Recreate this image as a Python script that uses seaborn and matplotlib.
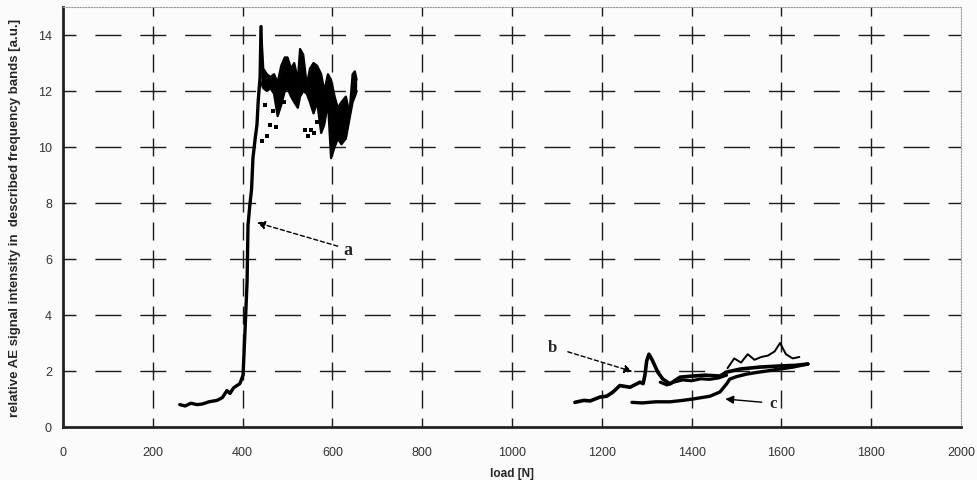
import numpy as np
import pandas as pd
import matplotlib
matplotlib.use("Agg")
import matplotlib.pyplot as plt
import seaborn as sns

# ---------------- data ----------------
a_load = [260, 272, 285, 298, 310, 325, 343, 355, 365, 372, 380, 394, 401, 405,
          410, 412, 416, 420, 423, 428, 432, 435, 439, 441]
a_value = [0.8, 0.75, 0.85, 0.8, 0.82, 0.9, 0.95, 1.05, 1.3, 1.2, 1.4, 1.55, 1.85, 3.3,
           5.2, 7.2, 7.9, 8.5, 9.6, 10.3, 10.8, 11.7, 12.5, 14.3]

a_band_load = [441, 446, 454, 462, 470, 478, 486, 494, 500, 508, 515, 523, 528, 535,
               543, 550, 558, 566, 575, 582, 590, 597, 605, 612, 620, 630, 638, 645,
               650, 654]
a_band_high = [14.3, 12.8, 12.6, 12.5, 12.6, 12.3, 12.9, 13.2, 13.2, 12.8, 13.0, 12.4,
               13.5, 13.3, 12.2, 12.8, 13.0, 12.9, 12.6, 12.0, 12.6, 12.4, 11.8, 11.4,
               11.6, 11.8, 11.2, 12.6, 12.7, 12.4]
a_band_low = [12.3, 12.1, 12.0, 12.1, 11.9, 11.1, 11.5, 12.0, 12.1, 11.8, 11.6, 11.4,
              11.8, 12.0, 11.9, 11.6, 11.2, 11.6, 10.5, 10.8, 11.6, 9.6, 10.0, 10.3,
              10.1, 10.3, 11.0, 11.6, 11.8, 12.0]

a_dot_load = [443, 449, 455, 461, 468, 474, 480, 486, 492, 540, 546, 552, 558, 566, 572]
a_dot_value = [10.2, 11.5, 10.4, 10.8, 11.3, 10.7, 11.5, 11.9, 11.6, 10.6, 10.4, 10.6,
               10.5, 10.9, 11.4]

b_load = [1140, 1160, 1174, 1196, 1211, 1225, 1240, 1263, 1285, 1292, 1296, 1300, 1305,
          1312, 1325, 1336, 1352, 1374, 1403, 1430, 1463, 1478, 1508, 1552, 1597, 1630,
          1659]
b_value = [0.88, 0.95, 0.93, 1.07, 1.1, 1.25, 1.48, 1.42, 1.6, 1.55, 1.85, 2.36, 2.6,
           2.4, 1.95, 1.71, 1.54, 1.78, 1.82, 1.85, 1.82, 1.96, 2.07, 2.14, 2.18, 2.2,
           2.25]

b_low_load = [1330, 1345, 1360, 1380, 1400, 1420, 1440, 1460, 1478]
b_low_value = [1.6, 1.5, 1.6, 1.68, 1.65, 1.72, 1.7, 1.75, 1.85]

b_up_load = [1480, 1495, 1510, 1525, 1540, 1555, 1570, 1585, 1597, 1610, 1625, 1640]
b_up_value = [2.1, 2.45, 2.3, 2.6, 2.4, 2.5, 2.55, 2.7, 3.0, 2.6, 2.45, 2.5]

c_load = [1267, 1290, 1320, 1352, 1380, 1403, 1441, 1463, 1478, 1485, 1500, 1523, 1545,
          1568, 1600, 1626, 1659]
c_value = [0.88, 0.86, 0.9, 0.9, 0.95, 1.0, 1.1, 1.25, 1.54, 1.71, 1.8, 1.89, 1.95, 2.0,
           2.08, 2.14, 2.25]

x_ticks = [0, 200, 400, 600, 800, 1000, 1200, 1400, 1600, 1800, 2000]
y_ticks = [0, 2, 4, 6, 8, 10, 12, 14]
x_label = "load [N]"
y_label = "relative AE signal intensity in  described frequency bands [a.u.]"

# ---------------- figure ----------------
sns.set_style("white")
plt.rcParams["font.family"] = ["Liberation Sans", "DejaVu Sans"]

fig = plt.figure(figsize=(9.77, 4.81), dpi=100, facecolor="#fbfbfb")
ax = fig.add_axes([63 / 977, 1 - 428 / 481, (961 - 63) / 977, (428 - 8) / 481])
ax.set_facecolor("#fbfbfb")

ax.set_xlim(0, 2000)
ax.set_ylim(0, 15)
ax.set_xticks(x_ticks)
ax.set_yticks(y_ticks)

# dashed grid with crossing dashes at intersections
px = 0.72
for yv in y_ticks[1:]:
    ax.axhline(yv, color="#1a1a1a", lw=1.0, zorder=1,
               linestyle=(9.35, (26 * px, 18.9 * px)))
for xv in x_ticks[1:-1]:
    ax.axvline(xv, color="#1a1a1a", lw=1.0, zorder=1,
               linestyle=(6.5, (18 * px, 10 * px)))

# curve a
sns.lineplot(x=a_load, y=a_value, color="black", lw=2.4, ax=ax, zorder=3)
ax.fill_between(a_band_load, a_band_low, a_band_high, color="black", lw=0, zorder=3)
sns.lineplot(x=a_band_load, y=a_band_high, color="black", lw=1.6, ax=ax, zorder=3)
sns.lineplot(x=a_band_load, y=a_band_low, color="black", lw=1.6, ax=ax, zorder=3)
sns.scatterplot(x=a_dot_load, y=a_dot_value, color="black", marker="s", s=6,
                linewidth=0, ax=ax, zorder=3)

# curve b
sns.lineplot(x=b_load, y=b_value, color="black", lw=2.6, ax=ax, zorder=3)
sns.lineplot(x=b_low_load, y=b_low_value, color="black", lw=2.2, ax=ax, zorder=3)
sns.lineplot(x=b_up_load, y=b_up_value, color="black", lw=1.4, ax=ax, zorder=3)

# curve c
sns.lineplot(x=c_load, y=c_value, color="black", lw=2.4, ax=ax, zorder=3)

# annotations
ax.annotate("a", xy=(432, 7.3), xytext=(625, 6.35), fontsize=13, fontweight="bold",
            family=["Liberation Serif", "DejaVu Serif"], ha="left", va="center",
            arrowprops=dict(arrowstyle="-|>", linestyle=(0, (3, 2)), color="black",
                            lw=1.0, shrinkA=2, shrinkB=0, mutation_scale=12))
ax.annotate("b", xy=(1268, 1.98), xytext=(1089, 2.86), fontsize=12, fontweight="bold",
            family=["Liberation Serif", "DejaVu Serif"], ha="center", va="center",
            arrowprops=dict(arrowstyle="-|>", linestyle=(0, (3, 2)), color="black",
                            lw=1.0, shrinkA=6, shrinkB=0, mutation_scale=12))
ax.annotate("c", xy=(1475, 1.0), xytext=(1581, 0.85), fontsize=12, fontweight="bold",
            family=["Liberation Serif", "DejaVu Serif"], ha="center", va="center",
            arrowprops=dict(arrowstyle="-|>", color="black", lw=1.0,
                            shrinkA=3, shrinkB=0, mutation_scale=12))

# spines
for s in ["left", "bottom"]:
    ax.spines[s].set_linewidth(2.0)
    ax.spines[s].set_color("#222222")
for s in ["top", "right"]:
    ax.spines[s].set_linewidth(0.8)
    ax.spines[s].set_color("#999999")
    ax.spines[s].set_linestyle((0, (1, 1.5)))

ax.tick_params(axis="both", direction="out", length=4, width=1.2, color="#222222",
               labelsize=9, labelcolor="#333333")
ax.tick_params(axis="x", pad=10)
ax.tick_params(axis="y", pad=4)

ax.set_xlabel(x_label, fontsize=8.5, fontweight="bold", labelpad=6)
ax.set_ylabel(y_label, fontsize=9.5, fontweight="bold", labelpad=12)

fig.savefig("out.png", dpi=100, facecolor=fig.get_facecolor())
